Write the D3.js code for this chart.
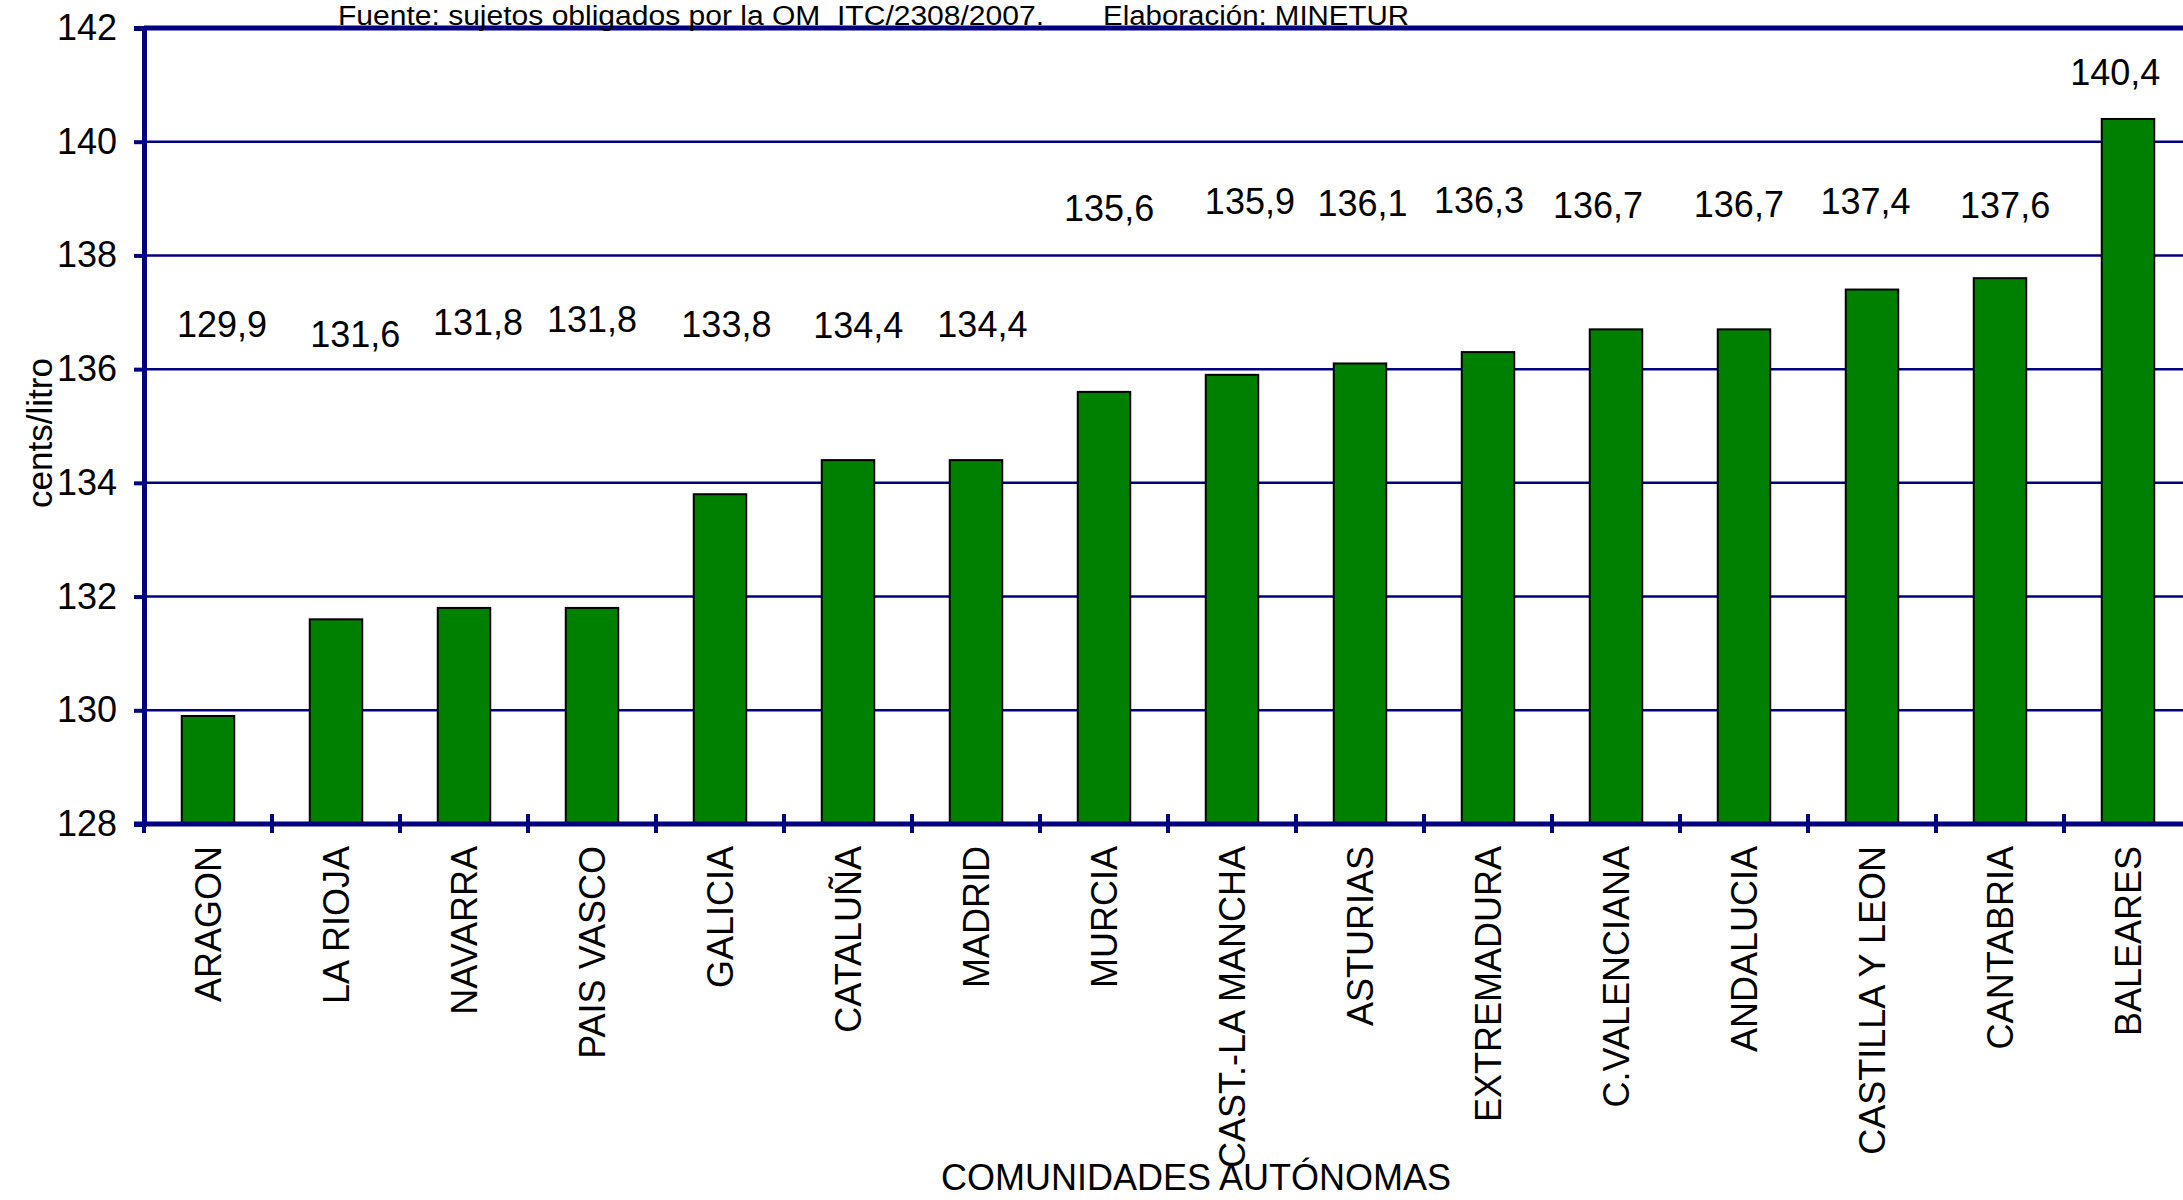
<!DOCTYPE html>
<html>
<head>
<meta charset="utf-8">
<script src="https://cdn.jsdelivr.net/npm/d3@7"></script>
<style>
  html, body { margin: 0; padding: 0; background: #fff; overflow: hidden; }
  text { font-family: "Liberation Sans", Arial, sans-serif; fill: #000; }
</style>
</head>
<body>
<div id="container"></div>
<script>
const WIDTH = 2183;
const HEIGHT = 1200;
const MARGIN = { TOP: 28, LEFT: 144 };
const BOTTOM_Y = 824;

// datos: precio medio por comunidad (cents/litro)
const categories = ['ARAGON', 'LA RIOJA', 'NAVARRA', 'PAIS VASCO', 'GALICIA', 'CATALUÑA', 'MADRID',
  'MURCIA', 'CAST.-LA MANCHA', 'ASTURIAS', 'EXTREMADURA', 'C.VALENCIANA', 'ANDALUCIA',
  'CASTILLA Y LEON', 'CANTABRIA', 'BALEARES'];
const values = [129.9, 131.6, 131.8, 131.8, 133.8, 134.4, 134.4, 135.6, 135.9, 136.1, 136.3,
  136.7, 136.7, 137.4, 137.6, 140.4];
const yTicks = [128, 130, 132, 134, 136, 138, 140, 142];

// donde quedaron las etiquetas en el original (en unidades del eje y / fraccion de banda)
const labelLevel = [136.80, 136.61, 136.83, 136.88, 136.80, 136.78, 136.80, 138.83, 138.95,
  138.93, 138.98, 138.88, 138.90, 138.95, 138.88, 141.22];
const labelShift = [0.11, 0.15, 0.11, 0.0, 0.05, 0.08, 0.05, 0.04, 0.14, 0.02, -0.07, -0.14,
  -0.04, -0.05, 0.04, -0.10];

const NAVY = '#000080';
const GREEN = '#008000';

const svg = d3.select('#container')
  .append('svg')
    .attr('width', WIDTH)
    .attr('height', HEIGHT);

const x = d3.scaleBand()
  .domain(categories)
  .range([MARGIN.LEFT, MARGIN.LEFT + 128 * categories.length])
  .padding(0);

const y = d3.scaleLinear()
  .domain([128, 142])
  .range([BOTTOM_Y, MARGIN.TOP]);

const plotRight = x.range()[1];

// lineas de la grilla
svg.append('g')
  .selectAll('line')
  .data(yTicks.filter(t => t > 128 && t < 142))
  .enter()
  .append('line')
    .attr('x1', MARGIN.LEFT)
    .attr('x2', plotRight)
    .attr('y1', d => y(d))
    .attr('y2', d => y(d))
    .attr('stroke', NAVY)
    .attr('stroke-width', 2.5);

// borde superior del area
svg.append('line')
  .attr('x1', MARGIN.LEFT).attr('x2', plotRight)
  .attr('y1', y(142)).attr('y2', y(142))
  .attr('stroke', NAVY)
  .attr('stroke-width', 5);

// barras
const barW = x.bandwidth() * 0.41;
svg.append('g')
  .selectAll('rect')
  .data(categories)
  .enter()
  .append('rect')
    .attr('x', d => x(d) + (x.bandwidth() - barW) / 2)
    .attr('y', (d, i) => y(values[i]))
    .attr('width', barW)
    .attr('height', (d, i) => y(128) - y(values[i]))
    .attr('fill', GREEN)
    .attr('stroke', '#000')
    .attr('stroke-width', 2);

// eje y
const yAxis = svg.append('g')
  .attr('transform', `translate(${MARGIN.LEFT}, 0)`)
  .call(d3.axisLeft(y).tickValues(yTicks).tickSize(10).tickPadding(17).tickFormat(d3.format('d')));
yAxis.select('.domain').attr('stroke', NAVY).attr('stroke-width', 5);
yAxis.selectAll('.tick line').attr('stroke', NAVY).attr('stroke-width', 4);
yAxis.selectAll('.tick text')
  .style('font-family', '"Liberation Sans", Arial, sans-serif')
  .style('font-size', '36px')
  .attr('fill', '#000');

// eje x
svg.append('line')
  .attr('x1', MARGIN.LEFT - 10).attr('x2', plotRight)
  .attr('y1', BOTTOM_Y).attr('y2', BOTTOM_Y)
  .attr('stroke', NAVY)
  .attr('stroke-width', 5);

svg.append('g')
  .selectAll('line')
  .data(categories)
  .enter()
  .append('line')
    .attr('x1', d => x(d))
    .attr('x2', d => x(d))
    .attr('y1', BOTTOM_Y - 10)
    .attr('y2', BOTTOM_Y + 9)
    .attr('stroke', NAVY)
    .attr('stroke-width', 4);

svg.append('g')
  .selectAll('text')
  .data(categories)
  .enter()
  .append('text')
    .attr('transform', d => `translate(${x(d) + x.bandwidth() / 2}, ${BOTTOM_Y + 22}) rotate(-90)`)
    .attr('text-anchor', 'end')
    .attr('dy', '0.36em')
    .style('font-size', '36px')
    .text(d => d);

// etiquetas de valores
svg.append('g')
  .selectAll('text')
  .data(values)
  .enter()
  .append('text')
    .attr('x', (d, i) => x(categories[i]) + x.bandwidth() * (0.5 + labelShift[i]))
    .attr('y', (d, i) => y(labelLevel[i]))
    .attr('dy', '0.36em')
    .attr('text-anchor', 'middle')
    .style('font-size', '36px')
    .text(d => d3.format('.1f')(d).replace('.', ','));

// titulos de ejes
svg.append('text')
  .attr('transform', `translate(52, ${(MARGIN.TOP + BOTTOM_Y) / 2 + 7}) rotate(-90)`)
  .attr('text-anchor', 'middle')
  .style('font-size', '35px')
  .text('cents/litro');

svg.append('text')
  .attr('x', 1196)
  .attr('y', 1190)
  .attr('text-anchor', 'middle')
  .style('font-size', '36px')
  .text('COMUNIDADES AUTÓNOMAS');

// fuente: letra algo mas baja y estirada para que no se corte arriba
svg.append('text')
  .attr('x', 338).attr('y', 25)
  .style('font-size', '27px')
  .attr('xml:space', 'preserve')
  .attr('textLength', 706)
  .attr('lengthAdjust', 'spacingAndGlyphs')
  .text('Fuente: sujetos obligados por la OM  ITC/2308/2007.');

svg.append('text')
  .attr('x', 1103).attr('y', 25)
  .style('font-size', '27px')
  .attr('textLength', 306)
  .attr('lengthAdjust', 'spacingAndGlyphs')
  .text('Elaboración: MINETUR');
</script>
</body>
</html>
